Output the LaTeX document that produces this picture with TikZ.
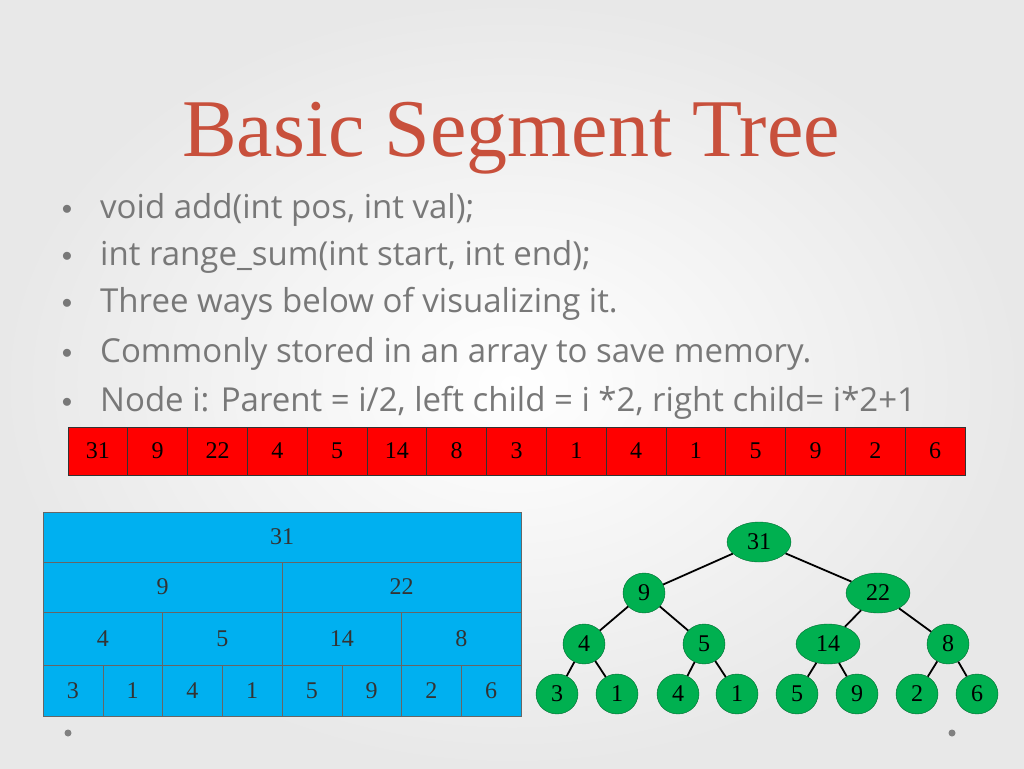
\documentclass[tikz,border=0pt]{standalone}
\usepackage{fontspec}
\setmainfont{Liberation Serif}
\newfontfamily\bulletfont{Open Sans}
\usetikzlibrary{shapes.geometric}
\definecolor{titlered}{RGB}{200,80,60}
\definecolor{txtgray}{RGB}{120,120,120}
\definecolor{cellred}{RGB}{255,0,0}
\definecolor{cellblue}{RGB}{0,176,240}
\definecolor{nodegreen}{RGB}{0,176,80}
\begin{document}
\begin{tikzpicture}[x=1pt,y=-1pt,
  redcell/.style={draw=black!80,line width=1pt,fill=cellred,minimum width=59.8pt,minimum height=48pt,inner sep=0pt,font=\fontsize{24}{24}\selectfont,text=black},
  bluecell/.style={draw=black!60,fill=cellblue,minimum height=50pt,inner sep=0pt,font=\fontsize{24}{24}\selectfont,text=black!80},
  gnode/.style={ellipse,draw=nodegreen!60!black,fill=nodegreen,minimum height=40pt,minimum width=42pt,inner sep=0pt,font=\fontsize{24}{24}\selectfont},
  gwide/.style={gnode,minimum width=64pt},
  edge/.style={black,line width=1.8pt},
  bul/.style={anchor=west,text=txtgray,font=\bulletfont\fontsize{33}{33}\selectfont}]
\useasboundingbox (0,0) rectangle (1024,768);
\shade[inner color=white,outer color=gray!18] (0,0) rectangle (1024,768);
\node[text=titlered,font=\fontsize{82}{82}\selectfont] (title) at (511,138) {Basic Segment Tree};
\foreach \t/\y [count=\i] in {{void add(int pos, int val);}/210,{int range\_sum(int start, int end);}/257,{Three ways below of visualizing it.}/304,{Commonly stored in an array to save memory.}/354,{Node i: Parent = i/2, left child = i *2, right child= i*2+1}/403}{
  \node[bul,inner sep=0pt] (b\i) at (100,\y) {\t};
  \node[text=txtgray,font=\fontsize{20}{20}\selectfont] (d\i) at (67,\y) {$\bullet$};
}
\foreach \v [count=\i] in {31,9,22,4,5,14,8,3,1,4,1,5,9,2,6}{
  \node[redcell] (r\i) at ({68+29.9+(\i-1)*59.8},451) {\v};
}
\node[bluecell,minimum width=478pt] (a1) at (282,537) {31};
\foreach \v [count=\i] in {9,22}{\node[bluecell,minimum width=239pt] (a2\i) at ({43+119.5+(\i-1)*239},587) {\v};}
\foreach \v [count=\i] in {4,5,14,8}{\node[bluecell,minimum width=119.5pt,minimum height=53pt] (a3\i) at ({43+59.75+(\i-1)*119.5},638.5) {\v};}
\foreach \v [count=\i] in {3,1,4,1,5,9,2,6}{\node[bluecell,minimum width=59.75pt,minimum height=51pt] (a4\i) at ({43+29.9+(\i-1)*59.75},690.5) {\v};}
\node[gwide] (n31) at (759,542) {31};
\node[gnode] (n9) at (644,593) {9};
\node[gwide] (n22) at (878,593) {22};
\node[gnode] (n4) at (584,644) {4};
\node[gnode] (n5) at (704,644) {5};
\node[gwide] (n14) at (828,644) {14};
\node[gnode] (n8) at (948,644) {8};
\foreach \v/\x [count=\i] in {3/557,1/617,4/678,1/737,5/797,9/857,2/917,6/977}{\node[gnode] (l\i) at (\x,694) {\v};}
\draw[edge] (n31)--(n9); \draw[edge] (n31)--(n22);
\draw[edge] (n9)--(n4); \draw[edge] (n9)--(n5);
\draw[edge] (n22)--(n14); \draw[edge] (n22)--(n8);
\draw[edge] (n4)--(l1); \draw[edge] (n4)--(l2);
\draw[edge] (n5)--(l3); \draw[edge] (n5)--(l4);
\draw[edge] (n14)--(l5); \draw[edge] (n14)--(l6);
\draw[edge] (n8)--(l7); \draw[edge] (n8)--(l8);
\fill[gray] (68,733) circle (3.5);
\fill[gray] (952,733) circle (3.5);
\end{tikzpicture}
\end{document}
